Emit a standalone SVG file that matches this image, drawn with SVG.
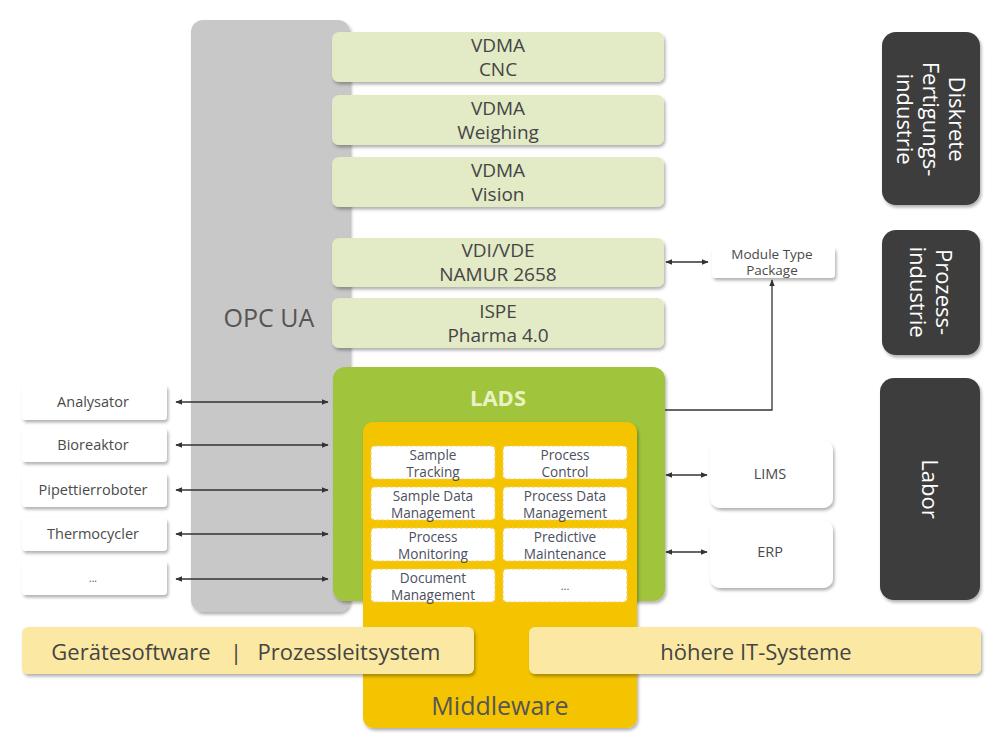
<svg xmlns="http://www.w3.org/2000/svg" width="1000" height="750" viewBox="0 0 1000 750">
<style>
text{font-family:"Open Sans","Noto Sans","Liberation Sans",sans-serif;text-anchor:middle;}
.std{fill:#e3eac6;}
.stdt{font-size:19px;fill:#454545;}
.dark{fill:#3d3d3d;}
.darkt{font-size:22px;fill:#ffffff;}
.wbox{fill:#ffffff;}
.wt{font-size:14.5px;fill:#4a4a4a;}
.fn{fill:#ffffff;stroke:#f2cf6a;stroke-width:1.2;stroke-dasharray:3 2;}
.fnt{font-size:13.6px;fill:#4c5060;}
.bar{fill:#fbe9a3;}
.bart{font-size:22px;fill:#444;}
.conn{stroke:#333;stroke-width:1.3;fill:none;}
</style>
<defs>
<filter id="sh" x="-10%" y="-10%" width="125%" height="140%">
<feDropShadow dx="1.5" dy="2.5" stdDeviation="1.5" flood-color="#000" flood-opacity="0.3"/>
</filter>
<marker id="ah" viewBox="0 0 10 10" refX="9" refY="5" markerWidth="7" markerHeight="7" orient="auto-start-reverse" markerUnits="userSpaceOnUse">
<path d="M0,1 L10,5 L0,9 z" fill="#333"/>
</marker>
</defs>
<rect width="1000" height="750" fill="#ffffff"/>

<g id="opcua">
<rect x="191" y="20" width="159" height="592" rx="12" fill="#c8c8c8" filter="url(#sh)"/>
<text x="269" y="327" style="font-size:25px;fill:#555">OPC UA</text>
</g>

<g id="vdma-cnc">
<rect class="std" x="332" y="32" width="332" height="50" rx="7" filter="url(#sh)"/>
<text class="stdt"><tspan x="498" y="52">VDMA</tspan><tspan x="498" y="76">CNC</tspan></text>
</g>
<g id="vdma-weighing">
<rect class="std" x="332" y="95" width="332" height="50" rx="7" filter="url(#sh)"/>
<text class="stdt"><tspan x="498" y="115">VDMA</tspan><tspan x="498" y="139">Weighing</tspan></text>
</g>
<g id="vdma-vision">
<rect class="std" x="332" y="157" width="332" height="50" rx="7" filter="url(#sh)"/>
<text class="stdt"><tspan x="498" y="177">VDMA</tspan><tspan x="498" y="201">Vision</tspan></text>
</g>
<g id="namur">
<rect class="std" x="332" y="238" width="332" height="49" rx="7" filter="url(#sh)"/>
<text class="stdt"><tspan x="498" y="257">VDI/VDE</tspan><tspan x="498" y="281">NAMUR 2658</tspan></text>
</g>
<g id="ispe">
<rect class="std" x="332" y="298" width="332" height="50" rx="7" filter="url(#sh)"/>
<text class="stdt"><tspan x="498" y="318">ISPE</tspan><tspan x="498" y="342">Pharma 4.0</tspan></text>
</g>

<g id="mtp">
<rect class="wbox" x="712" y="247" width="123" height="31" rx="4" filter="url(#sh)"/>
<text class="wt" style="font-size:13.5px"><tspan x="772" y="259">Module Type</tspan><tspan x="772" y="275">Package</tspan></text>
</g>

<g id="diskrete">
<rect class="dark" x="882" y="32" width="98" height="173" rx="14" filter="url(#sh)"/>
<text class="darkt" transform="translate(931,119) rotate(90)"><tspan x="0" y="-18">Diskrete</tspan><tspan x="0" y="8">Fertigungs-</tspan><tspan x="0" y="34">industrie</tspan></text>
</g>
<g id="prozess">
<rect class="dark" x="882" y="230" width="98" height="125" rx="14" filter="url(#sh)"/>
<text class="darkt" transform="translate(931,292) rotate(90)"><tspan x="0" y="-5">Prozess-</tspan><tspan x="0" y="21">industrie</tspan></text>
</g>
<g id="labor">
<rect class="dark" x="880" y="378" width="100" height="222" rx="14" filter="url(#sh)"/>
<text class="darkt" transform="translate(930,489) rotate(90)" y="8">Labor</text>
</g>

<g id="lads">
<rect x="333" y="367" width="332" height="234" rx="12" fill="#a0c43a" filter="url(#sh)"/>
<text x="498" y="406" style="font-size:22px;font-weight:bold;fill:#eaf2c4">LADS</text>
</g>

<g id="middleware">
<rect x="363" y="422" width="274" height="306" rx="10" fill="#f5c400" filter="url(#sh)"/>
<text x="500" y="715" style="font-size:25px;fill:#555">Middleware</text>
</g>

<g id="f-sample-tracking"><rect class="fn" x="371" y="446" width="124" height="33" rx="4"/><text class="fnt"><tspan x="433" y="459.5">Sample</tspan><tspan x="433" y="476.5">Tracking</tspan></text></g>
<g id="f-process-control"><rect class="fn" x="503" y="446" width="124" height="33" rx="4"/><text class="fnt"><tspan x="565" y="459.5">Process</tspan><tspan x="565" y="476.5">Control</tspan></text></g>
<g id="f-sample-data"><rect class="fn" x="371" y="487" width="124" height="33" rx="4"/><text class="fnt"><tspan x="433" y="500.5">Sample Data</tspan><tspan x="433" y="517.5">Management</tspan></text></g>
<g id="f-process-data"><rect class="fn" x="503" y="487" width="124" height="33" rx="4"/><text class="fnt"><tspan x="565" y="500.5">Process Data</tspan><tspan x="565" y="517.5">Management</tspan></text></g>
<g id="f-process-monitoring"><rect class="fn" x="371" y="528" width="124" height="33" rx="4"/><text class="fnt"><tspan x="433" y="541.5">Process</tspan><tspan x="433" y="558.5">Monitoring</tspan></text></g>
<g id="f-predictive"><rect class="fn" x="503" y="528" width="124" height="33" rx="4"/><text class="fnt"><tspan x="565" y="541.5">Predictive</tspan><tspan x="565" y="558.5">Maintenance</tspan></text></g>
<g id="f-document"><rect class="fn" x="371" y="569" width="124" height="33" rx="4"/><text class="fnt"><tspan x="433" y="582.5">Document</tspan><tspan x="433" y="599.5">Management</tspan></text></g>
<g id="f-more"><rect class="fn" x="503" y="569" width="124" height="33" rx="4"/><text class="fnt" x="565" y="590" style="font-size:11px">...</text></g>

<g id="analysator"><rect class="wbox" x="22" y="385" width="145" height="35" rx="4" filter="url(#sh)"/><text class="wt" x="93" y="407">Analysator</text></g>
<g id="bioreaktor"><rect class="wbox" x="22" y="428" width="145" height="34" rx="4" filter="url(#sh)"/><text class="wt" x="93" y="450">Bioreaktor</text></g>
<g id="pipettierroboter"><rect class="wbox" x="22" y="473" width="145" height="34" rx="4" filter="url(#sh)"/><text class="wt" x="93" y="495">Pipettierroboter</text></g>
<g id="thermocycler"><rect class="wbox" x="22" y="518" width="145" height="33" rx="4" filter="url(#sh)"/><text class="wt" x="93" y="539">Thermocycler</text></g>
<g id="more-devices"><rect class="wbox" x="22" y="561" width="145" height="34" rx="4" filter="url(#sh)"/><text class="wt" x="93" y="582" style="font-size:10px">...</text></g>

<g id="lims"><rect class="wbox" x="710" y="440" width="123" height="68" rx="10" filter="url(#sh)"/><text class="wt" x="770" y="479">LIMS</text></g>
<g id="erp"><rect class="wbox" x="710" y="520" width="123" height="68" rx="10" filter="url(#sh)"/><text class="wt" x="770" y="557">ERP</text></g>

<g id="geraetesoftware">
<rect class="bar" x="22" y="627" width="452" height="47" rx="6" filter="url(#sh)"/>
<text class="bart" x="131" y="660">Gerätesoftware</text>
<text class="bart" x="236" y="660">|</text>
<text class="bart" x="349" y="660">Prozessleitsystem</text>
</g>
<g id="hoehere-it">
<rect class="bar" x="529" y="627" width="452" height="47" rx="6" filter="url(#sh)"/>
<text class="bart" x="756" y="660">höhere IT-Systeme</text>
</g>

<g id="connectors">
<line class="conn" x1="666" y1="262" x2="708" y2="262" marker-start="url(#ah)" marker-end="url(#ah)"/>
<polyline class="conn" points="665,410 772,410 772,280" marker-end="url(#ah)"/>
<line class="conn" x1="176" y1="402" x2="328" y2="402" marker-start="url(#ah)" marker-end="url(#ah)"/>
<line class="conn" x1="176" y1="445" x2="328" y2="445" marker-start="url(#ah)" marker-end="url(#ah)"/>
<line class="conn" x1="176" y1="490" x2="328" y2="490" marker-start="url(#ah)" marker-end="url(#ah)"/>
<line class="conn" x1="176" y1="534" x2="328" y2="534" marker-start="url(#ah)" marker-end="url(#ah)"/>
<line class="conn" x1="176" y1="579" x2="328" y2="579" marker-start="url(#ah)" marker-end="url(#ah)"/>
<line class="conn" x1="666" y1="475" x2="707" y2="475" marker-start="url(#ah)" marker-end="url(#ah)"/>
<line class="conn" x1="666" y1="552" x2="707" y2="552" marker-start="url(#ah)" marker-end="url(#ah)"/>
</g>
</svg>
